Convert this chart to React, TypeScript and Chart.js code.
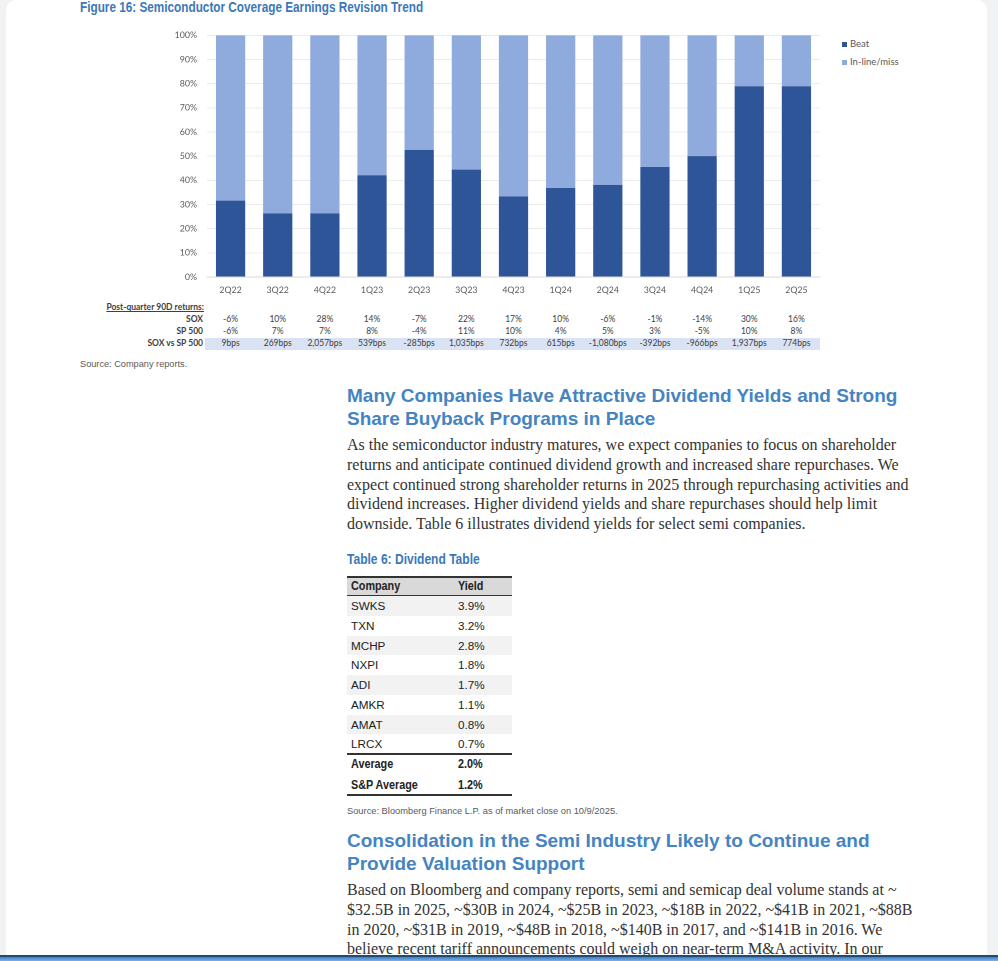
import React, { useEffect, useRef, useState } from 'react';
import { Chart, registerables } from 'chart.js';

Chart.register(...registerables);

// ---- Chart data ----
const categories = ['2Q22', '3Q22', '4Q22', '1Q23', '2Q23', '3Q23', '4Q23', '1Q24', '2Q24', '3Q24', '4Q24', '1Q25', '2Q25'];
const beatShare = [31.6, 26.3, 26.3, 42.1, 52.6, 44.4, 33.3, 36.8, 38.1, 45.5, 50.0, 78.9, 78.9];
const inlineMissShare = [68.4, 73.7, 73.7, 57.9, 47.4, 55.6, 66.7, 63.2, 61.9, 54.5, 50.0, 21.1, 21.1];
const seriesNames = ['Beat', 'In-line/miss'];
const yTickStep = 10;

// ---- Post-quarter returns table ----
const soxReturns = ['-6%', '10%', '28%', '14%', '-7%', '22%', '17%', '10%', '-6%', '-1%', '-14%', '30%', '16%'];
const sp500Returns = ['-6%', '7%', '7%', '8%', '-4%', '11%', '10%', '4%', '5%', '3%', '-5%', '10%', '8%'];
const soxVsSp500 = ['9bps', '269bps', '2,057bps', '539bps', '-285bps', '1,035bps', '732bps', '615bps', '-1,080bps', '-392bps', '-966bps', '1,937bps', '774bps'];

// ---- Dividend table ----
const dividendCompanies = ['SWKS', 'TXN', 'MCHP', 'NXPI', 'ADI', 'AMKR', 'AMAT', 'LRCX'];
const dividendYields = ['3.9%', '3.2%', '2.8%', '1.8%', '1.7%', '1.1%', '0.8%', '0.7%'];
const averageYield = '2.0%';
const spAverageYield = '1.2%';

const BEAT_COLOR = '#2e5597';
const MISS_COLOR = '#8faadc';
const HEAD_COLOR = '#4584c2';
const TICK_COLOR = '#595959';
const CHART_LEFT = 60;
const CHART_TOP = 20;

const para1 = [
  'As the semiconductor industry matures, we expect companies to focus on shareholder',
  'returns and anticipate continued dividend growth and increased share repurchases. We',
  'expect continued strong shareholder returns in 2025 through repurchasing activities and',
  'dividend increases. Higher dividend yields and share repurchases should help limit',
  'downside. Table 6 illustrates dividend yields for select semi companies.',
];
const para2 = [
  'Based on Bloomberg and company reports, semi and semicap deal volume stands at ~',
  '$32.5B in 2025, ~$30B in 2024, ~$25B in 2023, ~$18B in 2022, ~$41B in 2021, ~$88B',
  'in 2020, ~$31B in 2019, ~$48B in 2018, ~$140B in 2017, and ~$141B in 2016. We',
  'believe recent tariff announcements could weigh on near-term M&A activity. In our',
];

const abs = (left: number, top: number, extra: React.CSSProperties = {}): React.CSSProperties => ({
  position: 'absolute',
  left,
  top,
  whiteSpace: 'nowrap',
  ...extra,
});

export default function App() {
  const canvasRef = useRef<HTMLCanvasElement>(null);
  const [cols, setCols] = useState<number[]>([]);

  useEffect(() => {
    const tickFont = { family: 'Lato', size: 8.8 };
    const chart = new Chart(canvasRef.current as HTMLCanvasElement, {
      type: 'bar',
      data: {
        labels: categories,
        datasets: [
          { label: seriesNames[0], data: beatShare, backgroundColor: BEAT_COLOR, barPercentage: 0.62, categoryPercentage: 1 },
          { label: seriesNames[1], data: inlineMissShare, backgroundColor: MISS_COLOR, barPercentage: 0.62, categoryPercentage: 1 },
        ],
      },
      options: {
        animation: false,
        responsive: false,
        maintainAspectRatio: false,
        devicePixelRatio: 2,
        layout: { padding: { top: 5, right: 10, left: 0, bottom: 0 } },
        plugins: { legend: { display: false }, tooltip: { enabled: false } },
        scales: {
          x: {
            stacked: true,
            grid: { display: false, drawTicks: false },
            border: { display: true, color: '#d9d9d9', width: 1 },
            ticks: { color: TICK_COLOR, font: tickFont, padding: 8, maxRotation: 0, autoSkip: false },
            afterFit: (s: any) => { s.height = 23; },
          },
          y: {
            stacked: true,
            min: 0,
            max: 100,
            grid: { color: '#ececec', drawTicks: false },
            border: { display: false },
            ticks: { stepSize: yTickStep, color: TICK_COLOR, font: tickFont, padding: 10, callback: (v: any) => v + '%' },
            afterFit: (s: any) => { s.width = 147; },
          },
        },
      },
    } as any);
    const xs = chart.scales.x;
    setCols(categories.map((_, i) => CHART_LEFT + xs.getPixelForValue(i)));
    return () => chart.destroy();
  }, []);

  const smallFont: React.CSSProperties = { fontFamily: 'Lato, "Open Sans", sans-serif', fontSize: 8.5, color: '#404040' };
  const rowY = [302, 314, 326, 338];

  const tableRows = [
    { label: 'SOX', vals: soxReturns },
    { label: 'SP 500', vals: sp500Returns },
    { label: 'SOX vs SP 500', vals: soxVsSp500 },
  ];

  const tRowH = 19.75;
  const tTop = 596;
  const boldCell = (extra: React.CSSProperties = {}): React.CSSProperties => ({ fontSize: 12, fontWeight: 'bold', color: '#222', transform: 'scaleX(0.9)', transformOrigin: 'left center', ...extra });

  return (
    <div style={{ position: 'fixed', left: 0, top: 0, width: 998, height: 961, overflow: 'hidden', background: '#f1f2f4', fontFamily: '"Liberation Sans", Arial, sans-serif' }}>
      <div style={{ position: 'absolute', left: 6, top: 0, width: 981, height: 970, background: '#ffffff', borderRadius: 10 }} />

      {/* Figure title */}
      <div style={abs(80, -1, { fontWeight: 'bold', fontSize: 14, color: '#3b78b8', transform: 'scaleX(0.84)', transformOrigin: 'left center' })}>
        Figure 16: Semiconductor Coverage Earnings Revision Trend
      </div>

      <canvas ref={canvasRef} width={770} height={280} style={{ position: 'absolute', left: CHART_LEFT, top: CHART_TOP, width: 770, height: 280 }} />

      {/* Legend */}
      <div style={abs(842, 41.5, { width: 5, height: 5, background: BEAT_COLOR })} />
      <div style={abs(850, 37.5, { ...smallFont, fontSize: 9.5, color: TICK_COLOR })}>{seriesNames[0]}</div>
      <div style={abs(842, 59.5, { width: 5, height: 5, background: MISS_COLOR })} />
      <div style={abs(850, 55.5, { ...smallFont, fontSize: 9.5, color: TICK_COLOR })}>{seriesNames[1]}</div>

      {/* Post-quarter returns */}
      <div style={abs(0, rowY[0], { ...smallFont, width: 204, textAlign: 'right', fontWeight: 'bold', textDecoration: 'underline' })}>
        Post-quarter 90D returns:
      </div>
      <div style={abs(205, 337.5, { width: 615, height: 12, background: '#dae3f3' })} />
      {tableRows.map((r, ri) => (
        <React.Fragment key={r.label}>
          <div style={abs(0, rowY[ri + 1], { ...smallFont, width: 203, textAlign: 'right', fontWeight: 'bold' })}>{r.label}</div>
          {cols.map((x, ci) => (
            <div key={ci} style={abs(x - 30, rowY[ri + 1], { ...smallFont, width: 60, textAlign: 'center' })}>{r.vals[ci]}</div>
          ))}
        </React.Fragment>
      ))}

      <div style={abs(80, 359, { fontSize: 9.2, color: '#5a5a5a' })}>Source: Company reports.</div>

      {/* Heading 1 */}
      <div style={abs(347, 384, { fontSize: 19, fontWeight: 'bold', color: HEAD_COLOR, lineHeight: '23px' })}>
        Many Companies Have Attractive Dividend Yields and Strong<br />Share Buyback Programs in Place
      </div>
      <div style={abs(347, 435, { fontFamily: '"Liberation Serif", "Times New Roman", serif', fontSize: 16, color: '#333', lineHeight: '19.75px' })}>
        {para1.map((l, i) => <div key={i}>{l}</div>)}
      </div>

      {/* Table 6 */}
      <div style={abs(347, 551, { fontWeight: 'bold', fontSize: 14, color: '#3b78b8', transform: 'scaleX(0.86)', transformOrigin: 'left center' })}>
        Table 6: Dividend Table
      </div>
      <div style={abs(347, 576, { width: 165, height: 20, background: '#d9d9d9', borderTop: '2px solid #333', borderBottom: '1px solid #333', boxSizing: 'border-box' })} />
      <div style={abs(351, 579, boldCell())}>Company</div>
      <div style={abs(458, 579, boldCell())}>Yield</div>
      {dividendCompanies.map((c, i) => (
        <React.Fragment key={c}>
          <div style={abs(347, tTop + i * tRowH, { width: 165, height: tRowH, background: i % 2 === 0 ? '#f2f2f2' : '#ffffff' })} />
          <div style={abs(351, tTop + i * tRowH + 3, { fontSize: 11.7, color: '#222' })}>{c}</div>
          <div style={abs(458, tTop + i * tRowH + 3, { fontSize: 11.7, color: '#222' })}>{dividendYields[i]}</div>
        </React.Fragment>
      ))}
      <div style={abs(347, 753, { width: 165, height: 0, borderTop: '2px solid #333' })} />
      <div style={abs(351, 757, boldCell())}>Average</div>
      <div style={abs(458, 757, boldCell())}>{averageYield}</div>
      <div style={abs(351, 778, boldCell())}>S&amp;P Average</div>
      <div style={abs(458, 778, boldCell())}>{spAverageYield}</div>
      <div style={abs(347, 794, { width: 165, height: 0, borderTop: '2px solid #333' })} />

      <div style={abs(347, 806, { fontSize: 9.3, color: '#5a5a5a' })}>Source: Bloomberg Finance L.P. as of market close on 10/9/2025.</div>

      {/* Heading 2 */}
      <div style={abs(347, 829, { fontSize: 19, fontWeight: 'bold', color: HEAD_COLOR, lineHeight: '23px' })}>
        Consolidation in the Semi Industry Likely to Continue and<br />Provide Valuation Support
      </div>
      <div style={abs(347, 880, { fontFamily: '"Liberation Serif", "Times New Roman", serif', fontSize: 16, color: '#333', lineHeight: '19.75px' })}>
        {para2.map((l, i) => <div key={i}>{l}</div>)}
      </div>
      <div style={{ position: 'absolute', left: 0, top: 955, width: 998, height: 6, background: 'linear-gradient(to bottom, #1f4a73 0px, #1f4a73 1.5px, #3f7fc4 2px, #7fb0e2 6px)' }} />
    </div>
  );
}
